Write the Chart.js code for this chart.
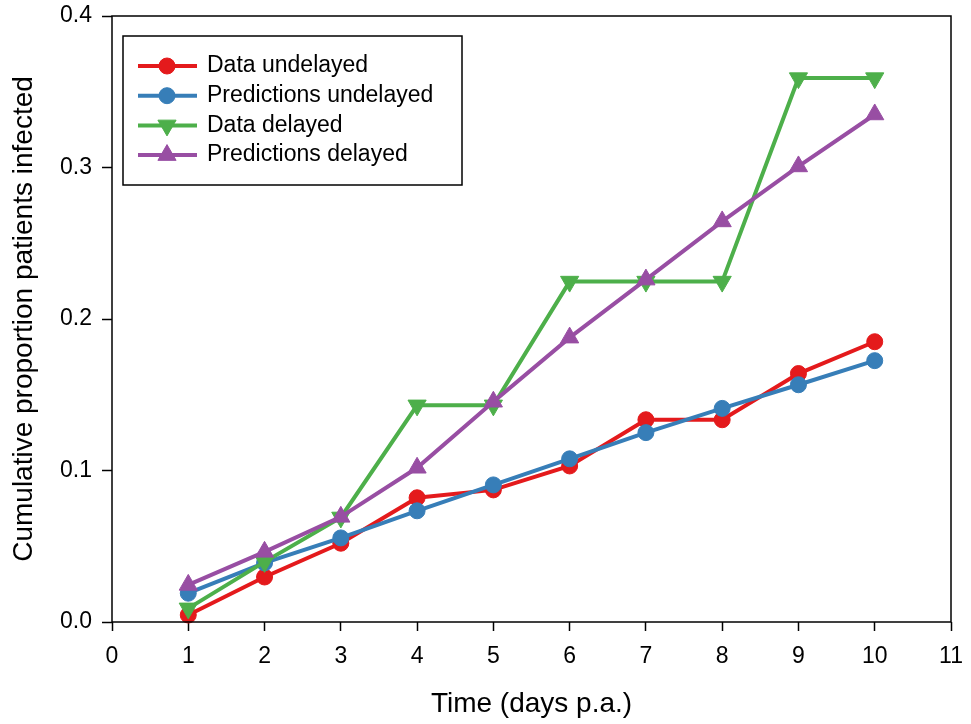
<!DOCTYPE html>
<html>
<head>
<meta charset="utf-8">
<script src="https://cdn.jsdelivr.net/npm/chart.js@4/dist/chart.umd.min.js"></script>
<style>
  html, body { margin: 0; padding: 0; background: #fff; }
  #wrap { width: 971px; height: 724px; }
</style>
</head>
<body>
<div id="wrap"><canvas id="myChart" width="971" height="724"></canvas></div>
<script>
// days post admission
var days = [1, 2, 3, 4, 5, 6, 7, 8, 9, 10];
var dataUndelayed = [0.0046, 0.0297, 0.052, 0.082, 0.0872, 0.103, 0.1335, 0.1335, 0.164, 0.185];
var predUndelayed = [0.019, 0.039, 0.0555, 0.0734, 0.0905, 0.1077, 0.125, 0.141, 0.1566, 0.1725];
var dataDelayed = [0.009, 0.0397, 0.069, 0.143, 0.143, 0.2247, 0.2247, 0.2247, 0.359, 0.359];
var predDelayed = [0.0245, 0.0463, 0.0694, 0.1018, 0.1454, 0.1877, 0.226, 0.2644, 0.3007, 0.335];
var xTicks = [0, 1, 2, 3, 4, 5, 6, 7, 8, 9, 10, 11];
var yTicks = [0, 0.1, 0.2, 0.3, 0.4];

var FONT = "'Liberation Sans', Arial, sans-serif";

function pts(ys) {
    return days.map(function (d, i) { return { x: d, y: ys[i] }; });
}

function series(label, ys, color, style, rot, radius, order) {
    return {
        label: label,
        data: pts(ys),
        borderColor: color,
        backgroundColor: color,
        borderWidth: 4,
        pointStyle: style,
        rotation: rot,
        pointRadius: radius,
        pointBorderWidth: 1,
        pointBorderColor: color,
        pointBackgroundColor: color,
        tension: 0,
        clip: false,
        order: order
    };
}

// box around the plot area
var frame = {
    id: "frame",
    afterDraw: function (chart) {
        var a = chart.chartArea, ctx = chart.ctx;
        ctx.save();
        ctx.strokeStyle = "#000";
        ctx.lineWidth = 1.5;
        ctx.strokeRect(a.left, a.top, a.right - a.left, a.bottom - a.top);
        ctx.restore();
    }
};

// legend drawn inside the plot, line + marker + text
var insideLegend = {
    id: "insideLegend",
    afterDraw: function (chart) {
        var a = chart.chartArea, ctx = chart.ctx;
        var bx = a.left + 11, by = a.top + 20, bw = 339, bh = 149;
        ctx.save();
        ctx.fillStyle = "#fff";
        ctx.fillRect(bx, by, bw, bh);
        ctx.strokeStyle = "#000";
        ctx.lineWidth = 1.5;
        ctx.strokeRect(bx, by, bw, bh);
        ctx.font = "23px " + FONT;
        ctx.textBaseline = "middle";
        chart.data.datasets.forEach(function (ds, i) {
            var y = by + 30 + i * 29.7;
            ctx.strokeStyle = ds.borderColor;
            ctx.lineWidth = 4;
            ctx.beginPath();
            ctx.moveTo(bx + 15, y);
            ctx.lineTo(bx + 74, y);
            ctx.stroke();
            ctx.fillStyle = ds.backgroundColor;
            ctx.strokeStyle = ds.borderColor;
            ctx.lineWidth = 1;
            Chart.helpers.drawPoint(ctx, {
                pointStyle: ds.pointStyle,
                rotation: ds.rotation,
                radius: ds.pointRadius,
                borderWidth: 1
            }, bx + 44, y);
            ctx.fillStyle = "#000";
            ctx.fillText(ds.label, bx + 84, y);
        });
        ctx.restore();
    }
};

var myChart = new Chart(document.getElementById("myChart").getContext("2d"), {
    type: "line",
    data: {
        datasets: [
            series("Data undelayed", dataUndelayed, "#e41a1c", "circle", 0, 8, 3),
            series("Predictions undelayed", predUndelayed, "#377eb8", "circle", 0, 8, 2),
            series("Data delayed", dataDelayed, "#4daf4a", "triangle", 180, 10.5, 1),
            series("Predictions delayed", predDelayed, "#984ea3", "triangle", 0, 10.5, 0)
        ]
    },
    options: {
        responsive: false,
        animation: false,
        layout: { padding: { top: 16, right: 20, left: 0, bottom: 0 } },
        plugins: {
            legend: { display: false },
            tooltip: { enabled: false }
        },
        scales: {
            x: {
                type: "linear",
                min: 0,
                max: 11,
                afterBuildTicks: function (s) { s.ticks = xTicks.map(function (v) { return { value: v }; }); },
                afterFit: function (s) { s.height = 102; s.paddingLeft = 0; s.paddingRight = 0; },
                border: { display: false },
                grid: { drawOnChartArea: false, drawTicks: true, tickLength: 9, tickColor: "#000", tickWidth: 1.5 },
                ticks: { color: "#000", font: { family: FONT, size: 23 }, padding: 12, maxRotation: 0 },
                title: { display: true, text: "Time (days p.a.)", color: "#000", font: { family: FONT, size: 28 }, padding: { top: 0, bottom: 3 } }
            },
            y: {
                type: "linear",
                min: 0,
                max: 0.4,
                afterBuildTicks: function (s) { s.ticks = yTicks.map(function (v) { return { value: v }; }); },
                afterFit: function (s) { s.width = 112; s.paddingTop = 0; s.paddingBottom = 0; },
                border: { display: false },
                grid: { drawOnChartArea: false, drawTicks: true, tickLength: 10, tickColor: "#000", tickWidth: 1.5 },
                ticks: {
                    color: "#000",
                    font: { family: FONT, size: 23 },
                    padding: 10,
                    callback: function (v) { return v.toFixed(1); }
                },
                title: { display: true, text: "Cumulative proportion patients infected", color: "#000", font: { family: FONT, size: 28 }, padding: { top: 7, bottom: 0 } }
            }
        }
    },
    plugins: [frame, insideLegend]
});
</script>
</body>
</html>
